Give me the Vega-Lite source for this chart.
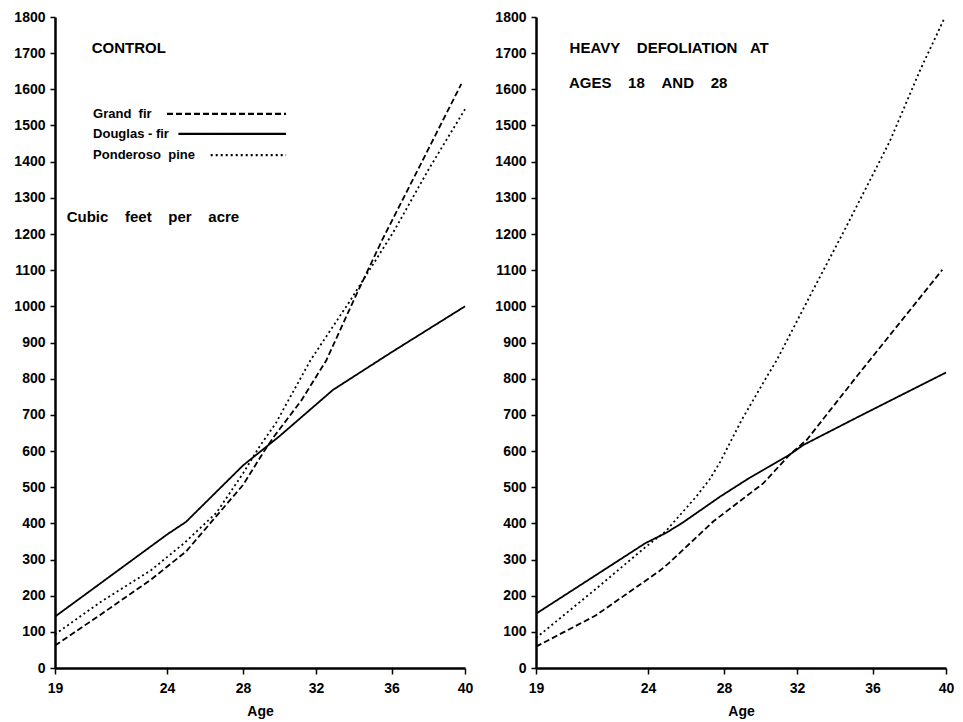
{
  "$schema": "https://vega.github.io/schema/vega-lite/v6.json",
  "background": "white",
  "padding": {"left": 5, "top": 10, "right": 10, "bottom": 5},
  "bounds": "flush",
  "spacing": 71,
  "config": {
    "view": {"stroke": null},
    "font": "Liberation Sans",
    "axis": {
      "grid": false,
      "domainColor": "black",
      "domainWidth": 2.5,
      "tickColor": "black",
      "tickWidth": 1.5,
      "labelColor": "black",
      "titleColor": "black",
      "labelFont": "Liberation Sans",
      "titleFont": "Liberation Sans",
      "labelFontWeight": "bold",
      "labelFontSize": 14
    }
  },
  "datasets": {
    "curves": [
      {"panel": "Control", "species": "Grand fir", "age": 19, "volume": 62},
      {"panel": "Control", "species": "Grand fir", "age": 21, "volume": 146},
      {"panel": "Control", "species": "Grand fir", "age": 23.3, "volume": 245},
      {"panel": "Control", "species": "Grand fir", "age": 25, "volume": 322},
      {"panel": "Control", "species": "Grand fir", "age": 28, "volume": 506},
      {"panel": "Control", "species": "Grand fir", "age": 29.2, "volume": 603},
      {"panel": "Control", "species": "Grand fir", "age": 29.7, "volume": 640},
      {"panel": "Control", "species": "Grand fir", "age": 31.2, "volume": 740},
      {"panel": "Control", "species": "Grand fir", "age": 32.55, "volume": 851},
      {"panel": "Control", "species": "Grand fir", "age": 34, "volume": 1017},
      {"panel": "Control", "species": "Grand fir", "age": 35.5, "volume": 1183},
      {"panel": "Control", "species": "Grand fir", "age": 37.7, "volume": 1404},
      {"panel": "Control", "species": "Grand fir", "age": 39.8, "volume": 1615},
      {"panel": "Control", "species": "Douglas-fir", "age": 19, "volume": 142},
      {"panel": "Control", "species": "Douglas-fir", "age": 24, "volume": 369},
      {"panel": "Control", "species": "Douglas-fir", "age": 25, "volume": 404},
      {"panel": "Control", "species": "Douglas-fir", "age": 28, "volume": 560},
      {"panel": "Control", "species": "Douglas-fir", "age": 30, "volume": 641},
      {"panel": "Control", "species": "Douglas-fir", "age": 32.9, "volume": 769},
      {"panel": "Control", "species": "Douglas-fir", "age": 36, "volume": 873},
      {"panel": "Control", "species": "Douglas-fir", "age": 40, "volume": 1000},
      {"panel": "Control", "species": "Ponderoso pine", "age": 19, "volume": 93},
      {"panel": "Control", "species": "Ponderoso pine", "age": 21, "volume": 181},
      {"panel": "Control", "species": "Ponderoso pine", "age": 23.3, "volume": 271},
      {"panel": "Control", "species": "Ponderoso pine", "age": 24.9, "volume": 345},
      {"panel": "Control", "species": "Ponderoso pine", "age": 26.6, "volume": 429},
      {"panel": "Control", "species": "Ponderoso pine", "age": 28, "volume": 538},
      {"panel": "Control", "species": "Ponderoso pine", "age": 28.9, "volume": 612},
      {"panel": "Control", "species": "Ponderoso pine", "age": 29.8, "volume": 677},
      {"panel": "Control", "species": "Ponderoso pine", "age": 31.7, "volume": 851},
      {"panel": "Control", "species": "Ponderoso pine", "age": 33.8, "volume": 1015},
      {"panel": "Control", "species": "Ponderoso pine", "age": 36.1, "volume": 1205},
      {"panel": "Control", "species": "Ponderoso pine", "age": 38, "volume": 1377},
      {"panel": "Control", "species": "Ponderoso pine", "age": 40, "volume": 1545},
      {"panel": "Defoliated", "species": "Grand fir", "age": 19, "volume": 59},
      {"panel": "Defoliated", "species": "Grand fir", "age": 21.66, "volume": 145},
      {"panel": "Defoliated", "species": "Grand fir", "age": 24.57, "volume": 267},
      {"panel": "Defoliated", "species": "Grand fir", "age": 25.1, "volume": 290},
      {"panel": "Defoliated", "species": "Grand fir", "age": 27.43, "volume": 405},
      {"panel": "Defoliated", "species": "Grand fir", "age": 30.16, "volume": 511},
      {"panel": "Defoliated", "species": "Grand fir", "age": 31.6, "volume": 590},
      {"panel": "Defoliated", "species": "Grand fir", "age": 32.52, "volume": 631},
      {"panel": "Defoliated", "species": "Grand fir", "age": 35.3, "volume": 815},
      {"panel": "Defoliated", "species": "Grand fir", "age": 39.8, "volume": 1101},
      {"panel": "Defoliated", "species": "Douglas-fir", "age": 19, "volume": 150},
      {"panel": "Defoliated", "species": "Douglas-fir", "age": 23.88, "volume": 345},
      {"panel": "Defoliated", "species": "Douglas-fir", "age": 24.93, "volume": 373},
      {"panel": "Defoliated", "species": "Douglas-fir", "age": 25.8, "volume": 401},
      {"panel": "Defoliated", "species": "Douglas-fir", "age": 27.8, "volume": 474},
      {"panel": "Defoliated", "species": "Douglas-fir", "age": 29.25, "volume": 521},
      {"panel": "Defoliated", "species": "Douglas-fir", "age": 31.6, "volume": 590},
      {"panel": "Defoliated", "species": "Douglas-fir", "age": 32.35, "volume": 617},
      {"panel": "Defoliated", "species": "Douglas-fir", "age": 35.3, "volume": 696},
      {"panel": "Defoliated", "species": "Douglas-fir", "age": 40, "volume": 817},
      {"panel": "Defoliated", "species": "Ponderoso pine", "age": 19, "volume": 83},
      {"panel": "Defoliated", "species": "Ponderoso pine", "age": 21.66, "volume": 218},
      {"panel": "Defoliated", "species": "Ponderoso pine", "age": 23.9, "volume": 335},
      {"panel": "Defoliated", "species": "Ponderoso pine", "age": 24.93, "volume": 378},
      {"panel": "Defoliated", "species": "Ponderoso pine", "age": 26.54, "volume": 474},
      {"panel": "Defoliated", "species": "Ponderoso pine", "age": 27.25, "volume": 522},
      {"panel": "Defoliated", "species": "Ponderoso pine", "age": 27.8, "volume": 570},
      {"panel": "Defoliated", "species": "Ponderoso pine", "age": 28.97, "volume": 686},
      {"panel": "Defoliated", "species": "Ponderoso pine", "age": 30.35, "volume": 806},
      {"panel": "Defoliated", "species": "Ponderoso pine", "age": 30.9, "volume": 852},
      {"panel": "Defoliated", "species": "Ponderoso pine", "age": 32.8, "volume": 1040},
      {"panel": "Defoliated", "species": "Ponderoso pine", "age": 34.53, "volume": 1212},
      {"panel": "Defoliated", "species": "Ponderoso pine", "age": 36.94, "volume": 1456},
      {"panel": "Defoliated", "species": "Ponderoso pine", "age": 38.6, "volume": 1654},
      {"panel": "Defoliated", "species": "Ponderoso pine", "age": 39.9, "volume": 1795}
    ],
    "keylines": [
      {"species": "Grand fir", "age": 24.0, "age2": 30.36, "volume": 1532},
      {"species": "Douglas-fir", "age": 24.6, "age2": 30.36, "volume": 1477},
      {"species": "Ponderoso pine", "age": 26.3, "age2": 30.36, "volume": 1418}
    ],
    "keytext": [
      {"label": "Grand\u00a0\u00a0fir", "age": 20.7, "volume": 1532},
      {"label": "Douglas\u00a0-\u00a0fir", "age": 20.7, "volume": 1477},
      {"label": "Ponderoso\u00a0\u00a0pine", "age": 20.7, "volume": 1418}
    ],
    "notes": [
      {"panel": "Control", "label": "CONTROL", "age": 20.64, "volume": 1715},
      {"panel": "Control", "label": "Cubic\u00a0\u00a0\u00a0\u00a0feet\u00a0\u00a0\u00a0\u00a0per\u00a0\u00a0\u00a0\u00a0acre", "age": 19.52, "volume": 1248},
      {"panel": "Defoliated", "label": "HEAVY\u00a0\u00a0\u00a0\u00a0DEFOLIATION\u00a0\u00a0\u00a0AT", "age": 20.5, "volume": 1715},
      {"panel": "Defoliated", "label": "AGES\u00a0\u00a0\u00a0\u00a018\u00a0\u00a0\u00a0\u00a0AND\u00a0\u00a0\u00a0\u00a028", "age": 20.47, "volume": 1617}
    ]
  },
  "hconcat": [
    {
      "width": 410,
      "height": 651,
      "encoding": {
        "x": {"field": "age", "type": "quantitative",
          "scale": {"domain": [19, 24, 28, 32, 36, 40], "range": [0, 112, 188, 261, 336.5, 410], "nice": false, "zero": false},
          "axis": {"values": [19, 24, 28, 32, 36, 40], "tickSize": 6, "labelPadding": 7, "labelFlush": false, "title": "Age", "titleFontSize": 14, "titleFontWeight": "bold", "titlePadding": 9}},
        "y": {"field": "volume", "type": "quantitative",
          "scale": {"domain": [0, 1800], "nice": false},
          "axis": {"values": [0,100,200,300,400,500,600,700,800,900,1000,1100,1200,1300,1400,1500,1600,1700,1800], "format": "d", "tickSize": 5, "labelPadding": 5, "minExtent": 50, "maxExtent": 50, "title": null}}
      },
      "layer": [
        {
          "data": {"name": "curves"},
          "transform": [{"filter": "datum.panel === 'Control'"}],
          "mark": {"type": "line", "color": "black", "strokeWidth": 1.8},
          "encoding": {
            "strokeDash": {"field": "species", "type": "nominal",
              "scale": {"domain": ["Grand fir", "Douglas-fir", "Ponderoso pine"], "range": [[6, 3], [1, 0], [2, 3]]},
              "legend": null}
          }
        },
        {
          "data": {"name": "keylines"},
          "mark": {"type": "rule", "color": "black", "strokeWidth": 2.2},
          "encoding": {
            "x2": {"field": "age2"},
            "strokeDash": {"field": "species", "type": "nominal", "legend": null}
          }
        },
        {
          "data": {"name": "keytext"},
          "mark": {"type": "text", "align": "left", "baseline": "middle", "fontSize": 13, "fontWeight": "bold", "color": "black"},
          "encoding": {
            "text": {"field": "label"}
          }
        },
        {
          "data": {"name": "notes"},
          "transform": [{"filter": "datum.panel === 'Control'"}],
          "mark": {"type": "text", "align": "left", "baseline": "middle", "fontSize": 15, "fontWeight": "bold", "color": "black"},
          "encoding": {
            "text": {"field": "label"}
          }
        }
      ]
    },
    {
      "width": 410,
      "height": 651,
      "encoding": {
        "x": {"field": "age", "type": "quantitative",
          "scale": {"domain": [19, 24, 28, 32, 36, 40], "range": [0, 112, 188, 261, 336.5, 410], "nice": false, "zero": false},
          "axis": {"values": [19, 24, 28, 32, 36, 40], "tickSize": 6, "labelPadding": 7, "labelFlush": false, "title": "Age", "titleFontSize": 14, "titleFontWeight": "bold", "titlePadding": 9}},
        "y": {"field": "volume", "type": "quantitative",
          "scale": {"domain": [0, 1800], "nice": false},
          "axis": {"values": [0,100,200,300,400,500,600,700,800,900,1000,1100,1200,1300,1400,1500,1600,1700,1800], "format": "d", "tickSize": 5, "labelPadding": 5, "minExtent": 50, "maxExtent": 50, "title": null}}
      },
      "layer": [
        {
          "data": {"name": "curves"},
          "transform": [{"filter": "datum.panel === 'Defoliated'"}],
          "mark": {"type": "line", "color": "black", "strokeWidth": 1.8},
          "encoding": {
            "strokeDash": {"field": "species", "type": "nominal",
              "scale": {"domain": ["Grand fir", "Douglas-fir", "Ponderoso pine"], "range": [[6, 3], [1, 0], [2, 3]]},
              "legend": null}
          }
        },
        {
          "data": {"name": "notes"},
          "transform": [{"filter": "datum.panel === 'Defoliated'"}],
          "mark": {"type": "text", "align": "left", "baseline": "middle", "fontSize": 15, "fontWeight": "bold", "color": "black"},
          "encoding": {
            "text": {"field": "label"}
          }
        }
      ]
    }
  ]
}
